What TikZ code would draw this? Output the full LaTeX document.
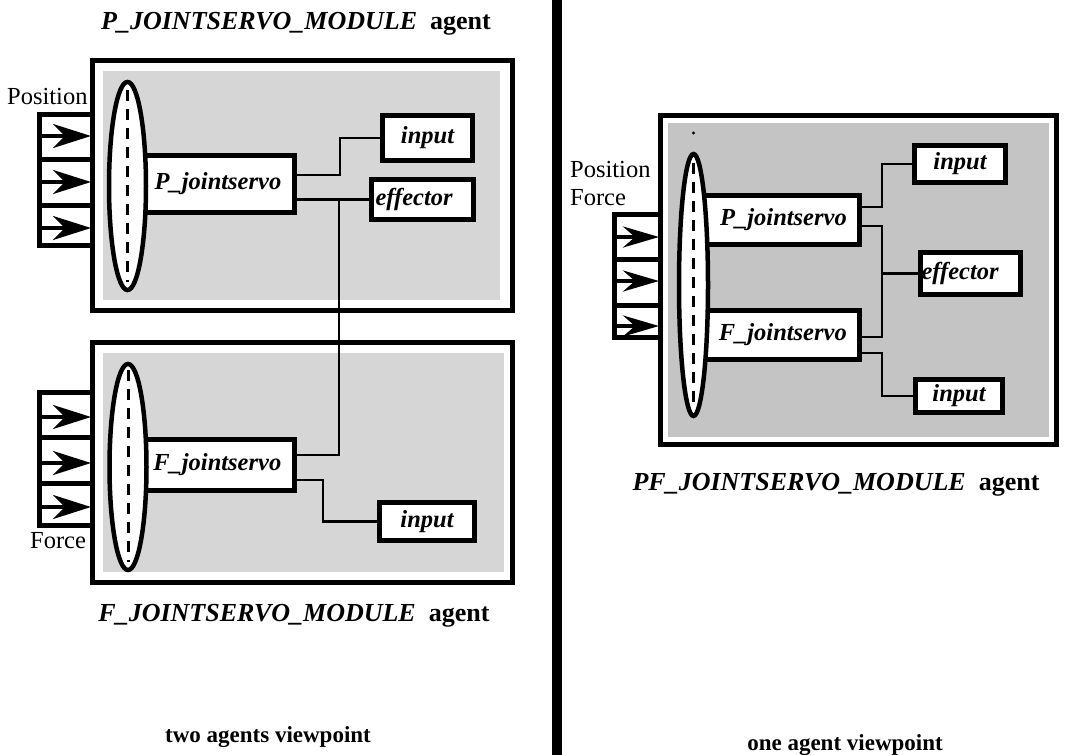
\documentclass[tikz,border=0pt]{standalone}
\usepackage{fontspec}
\setmainfont{Liberation Serif}
\usetikzlibrary{arrows.meta,shapes.geometric}
\begin{document}
\begin{tikzpicture}[x=1pt,y=-1pt,
  modbox/.style={draw, line width=5.5pt, inner sep=0pt, outer sep=0pt, minimum width=#1},
  stip/.style={fill=black!16, draw=none},
  stipd/.style={fill=black!23, draw=none},
  blk/.style={draw, line width=4.5pt, fill=white, inner sep=0pt, outer sep=0pt,
              font=\fontsize{24.5}{27}\selectfont\bfseries\itshape},
  servo/.style={blk, text width=141pt, align=right},
  wire/.style={line width=2.5pt},
  oval/.style={ellipse, draw, line width=4.5pt, fill=white, inner sep=0pt, outer sep=0pt},
  dashln/.style={line width=3pt, dash pattern=on 11pt off 8pt},
  bank/.style={line width=5pt},
  inarrow/.style={line width=4pt, -{Stealth[length=38pt,width=24pt,inset=12pt]}},
  inarrowb/.style={line width=4pt, -{Stealth[length=36pt,width=21pt,inset=12pt]}},
  lbl/.style={inner sep=0pt, font=\fontsize{24.5}{28}\selectfont},
  ttl/.style={inner sep=0pt, font=\fontsize{26}{30}\selectfont\bfseries},
  captxt/.style={inner sep=0pt, font=\fontsize{23}{27}\selectfont\bfseries}
]
\useasboundingbox (0,0) rectangle (1090,755);

% divider
\draw[line width=10pt] (557,0) -- (557,755);

% ---------- left: P module ----------
\fill[stip] (103,71) rectangle (500,300);
\node[modbox=420pt, minimum height=250pt] (mP) at (302.5,185.5) {};
\fill[stip] (103,353) rectangle (504,572);
\node[modbox=420pt, minimum height=240pt] (mF) at (302.5,462.5) {};

% banks
\draw[bank] (92.5,114.5) -- (39.5,114.5) -- (39.5,245) -- (92.5,245);
\draw[bank] (39.5,159) -- (92.5,159) (39.5,205) -- (92.5,205);
\draw[inarrow] (39.5,136) -- (91,136);
\draw[inarrow] (39.5,182) -- (91,182);
\draw[inarrow] (39.5,228) -- (91,228);

\draw[bank] (92.5,392.5) -- (39.5,392.5) -- (39.5,525) -- (92.5,525);
\draw[bank] (39.5,437) -- (92.5,437) (39.5,483) -- (92.5,483);
\draw[inarrow] (39.5,417) -- (91,417);
\draw[inarrow] (39.5,463) -- (91,463);
\draw[inarrow] (39.5,507) -- (91,507);

% wires left
\coordinate (j1) at (340,175);
\coordinate (j2) at (339,199.5);
\coordinate (j3) at (339,455);
\coordinate (j4) at (323,480);

% servo boxes
\node[servo, minimum width=167.5pt, minimum height=57pt] (pjs) at (210.75,184) {P\_jointservo};
\node[servo, minimum width=167.5pt, minimum height=51pt] (fjs) at (210.75,465) {F\_jointservo};

\node[blk, minimum width=90pt, minimum height=45pt] (in1) at (427.5,138) {input};
\node[blk, minimum width=102pt, minimum height=40pt, text width=94pt, align=left] (eff1) at (422.5,199.5) {effector};
\node[blk, minimum width=95pt, minimum height=38pt] (in3) at (427,521.5) {input};

\draw[wire] (pjs.east |- j1) -- (j1) |- (in1.west);
\draw[wire] (pjs.east |- eff1.west) -- (eff1.west);
\draw[wire] (j2) -- (j3) -- (fjs.east |- j3);
\draw[wire] (fjs.east |- j4) -- (j4) |- (in3.west);

% ellipses
\node[oval, minimum width=37pt, minimum height=208pt] (e1) at (127.5,186) {};
\draw[dashln] (e1.center |- 0,90) -- (e1.center |- 0,282);
\node[oval, minimum width=37pt, minimum height=206pt] (e2) at (128,467) {};
\draw[dashln] (e2.center |- 0,370) -- (e2.center |- 0,562);

% labels
\node[lbl, anchor=base west] (posL) at (7,104) {Position};
\node[lbl, anchor=base west] (forceL) at (30,548) {Force};
\node[ttl, anchor=base] (t1) at (296,29) {\textit{P\_JOINTSERVO\_MODULE}\ \ agent};
\node[ttl, anchor=base] (t2) at (294,621) {\textit{F\_JOINTSERVO\_MODULE}\ \ agent};
\node[captxt, anchor=base] (c1) at (268,742) {two agents viewpoint};

% ---------- right: PF module ----------
\fill[stipd] (668,123) rectangle (1049,437);
\node[modbox=396pt, minimum height=329pt] (mPF) at (858.5,280) {};

\draw[bank] (660.5,214.5) -- (614.5,214.5) -- (614.5,337.5) -- (660.5,337.5);
\draw[bank] (614.5,259) -- (660.5,259) (614.5,305) -- (660.5,305);
\draw[inarrowb] (614.5,237) -- (659,237);
\draw[inarrowb] (614.5,281) -- (659,281);
\draw[inarrowb] (614.5,326) -- (659,326);

\coordinate (k1) at (882,207);
\coordinate (k2) at (882,226);
\coordinate (k3) at (882,337);
\coordinate (k4) at (882,353);

\node[servo, minimum width=166.5pt, minimum height=49pt] (pjs2) at (776.25,220) {P\_jointservo};
\node[servo, minimum width=166.5pt, minimum height=49pt] (fjs2) at (776.25,335) {F\_jointservo};

\node[blk, minimum width=91pt, minimum height=37pt] (in2a) at (960,164) {input};
\node[blk, minimum width=100pt, minimum height=42pt, text width=98pt, align=left] (eff2) at (970.5,273.5) {effector};
\node[blk, minimum width=87pt, minimum height=33pt] (in2b) at (959,396) {input};

\draw[wire] (pjs2.east |- k1) -- (k1) |- (in2a.west);
\draw[wire] (pjs2.east |- k2) -- (k2) -- (k3) -- (fjs2.east |- k3);
\draw[wire] (k2 |- eff2.west) -- (eff2.west);
\draw[wire] (fjs2.east |- k4) -- (k4) |- (in2b.west);

\node[oval, minimum width=29pt, minimum height=262pt] (e3) at (693.5,285) {};
\fill (e3.center |- 0,133) circle (1.6pt);
\draw[dashln] (e3.center |- 0,163) -- (e3.center |- 0,405);

\node[lbl, anchor=base west] (pos2) at (570,177) {Position};
\node[lbl, anchor=base west] (force2) at (570,205) {Force};
\node[ttl, anchor=base] (t3) at (836,490) {\textit{PF\_JOINTSERVO\_MODULE}\ \ agent};
\node[captxt, anchor=base] (c2) at (845,750) {one agent viewpoint};
\end{tikzpicture}
\end{document}
